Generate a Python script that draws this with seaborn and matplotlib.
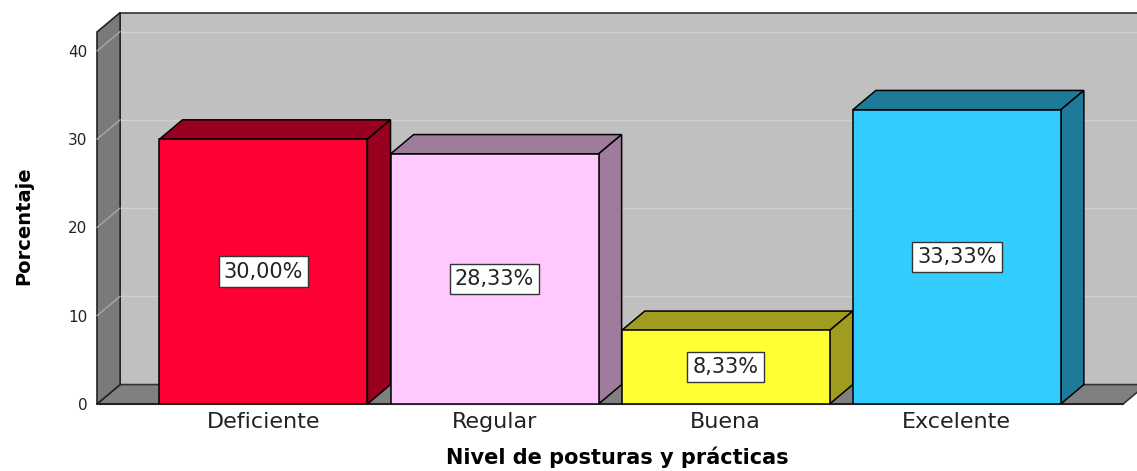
import numpy as np
import pandas as pd
import seaborn as sns
import matplotlib
matplotlib.use("Agg")
import matplotlib.pyplot as plt
from matplotlib.patches import Polygon

# datos del grafico
categorias = ["Deficiente", "Regular", "Buena", "Excelente"]
porcentajes = [30.00, 28.33, 8.33, 33.33]
etiquetas = ["30,00%", "28,33%", "8,33%", "33,33%"]
colores_frente = ["#FF0033", "#FFC8FF", "#FFFF33", "#33CCFF"]
colores_lado = ["#99001F", "#A07C9C", "#A09C20", "#1E7A99"]
ticks_y = [0, 10, 20, 30, 40]

sns.set_style("white")
plt.rcParams["font.family"] = ["DejaVu Sans"]

df = pd.DataFrame({"Nivel": categorias, "Porcentaje": porcentajes})

W, H = 1137, 471
fig = plt.figure(figsize=(W / 100, H / 100), dpi=100)
# front plane: x from px 97, y=0 at px 404, 8.825 px per unit
ax = fig.add_axes([97 / W, (H - 404) / H, (W - 97) / W, 391.4 / H])

x0, x1 = -0.72, 3.72      # front floor extent
dx, dy = 0.1, 2.2         # depth offset
ytop = 42.15

sns.barplot(data=df, x="Nivel", y="Porcentaje", hue="Nivel",
            palette=colores_frente, saturation=1, width=0.9, edgecolor="black",
            linewidth=1.1, legend=False, ax=ax, zorder=4)
barras = [p for c in ax.containers for p in c]

ax.set_xlim(x0, 3.78)
ax.set_ylim(0, ytop + dy)

# back wall, floor and left wall
ax.add_patch(Polygon([(x0 + dx, dy), (x1 + dx + 0.2, dy), (x1 + dx + 0.2, ytop + dy), (x0 + dx, ytop + dy)],
                     facecolor="#C0C0C0", edgecolor="#333333", lw=1.2, zorder=1, clip_on=False))
for t in ticks_y[1:]:
    ax.plot([x0 + dx, x1 + dx + 0.2], [t + dy, t + dy], color="#D0D0D0", lw=1, zorder=1.5, clip_on=False)
ax.add_patch(Polygon([(x0, 0), (x1, 0), (x1 + dx, dy), (x0 + dx, dy)],
                     facecolor="#808080", edgecolor="#333333", lw=1.2, zorder=2, clip_on=False))
ax.add_patch(Polygon([(x0, 0), (x0, ytop), (x0 + dx, ytop + dy), (x0 + dx, dy)],
                     facecolor="#7A7A7A", edgecolor="#222222", lw=1.2, zorder=2, clip_on=False))
for t in ticks_y[1:]:
    ax.plot([x0, x0 + dx], [t, t + dy], color="#A8A8A8", lw=1, zorder=2.5, clip_on=False)
ax.plot([x0, x1], [0, 0], color="#222222", lw=1.5, zorder=2.6, clip_on=False)

# 3d top and side faces from the seaborn bars
for bar, c, lab in zip(barras, colores_lado, etiquetas):
    bx, bw, bh = bar.get_x(), bar.get_width(), bar.get_height()
    ax.add_patch(Polygon([(bx, bh), (bx + dx, bh + dy), (bx + bw + dx, bh + dy), (bx + bw, bh)],
                         facecolor=c, edgecolor="black", lw=1.1, zorder=3, clip_on=False))
    ax.add_patch(Polygon([(bx + bw, 0), (bx + bw + dx, dy), (bx + bw + dx, bh + dy), (bx + bw, bh)],
                         facecolor=c, edgecolor="black", lw=1.1, zorder=3, clip_on=False))
    ax.text(bx + bw / 2, bh / 2, lab, ha="center", va="center", fontsize=15, color="#222222",
            zorder=6, bbox=dict(boxstyle="square,pad=0.25", facecolor="white", edgecolor="#333333", lw=1))

for s in ax.spines.values():
    s.set_visible(False)
ax.set_yticks(ticks_y)
ax.tick_params(axis="y", length=0, pad=7, labelsize=11, labelcolor="#222222")
ax.tick_params(axis="x", length=0, pad=6, labelsize=16, labelcolor="#222222")
ax.set_xlabel("Nivel de posturas y prácticas", fontsize=15, fontweight="bold", labelpad=10, color="black")
ax.set_ylabel("")
fig.text(24 / W, 1 - 226 / H, "Porcentaje", rotation=90, ha="center", va="center",
         fontsize=14, fontweight="bold", color="black")

fig.savefig("out.png", dpi=100)
